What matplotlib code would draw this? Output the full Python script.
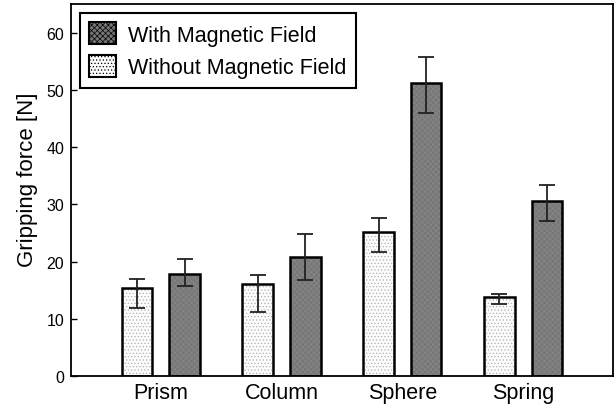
import matplotlib.pyplot as plt
import numpy as np
from matplotlib.patches import Patch

plt.rcParams['font.family'] = ['Liberation Sans', 'DejaVu Sans']
plt.rcParams['hatch.linewidth'] = 0.5

categories = ['Prism', 'Column', 'Sphere', 'Spring']
without_field = [15.4, 16.0, 25.2, 13.8]
without_lo = [11.9, 11.1, 21.6, 12.6]
without_hi = [17.0, 17.7, 27.6, 14.3]
with_field = [17.8, 20.8, 51.2, 30.5]
with_lo = [15.8, 16.8, 46.0, 27.0]
with_hi = [20.5, 24.8, 55.7, 33.4]

x = np.arange(len(categories))
w = 0.254
off = 0.197

fig = plt.figure(figsize=(6.16, 4.14), dpi=100)
ax = fig.add_axes([0.1153, 0.0894, 0.8797, 0.8986])

wo = np.array(without_field)
wi = np.array(with_field)

light_fc, light_hc = '#fcfcfc', '#b0b0b0'
dark_fc, dark_hc = '#777777', '#888888'
light_h, dark_h = '.....', 'xxxxxx'

# hatch layers first, then black outlines on top
ax.bar(x - off, wo, w, color=light_fc, edgecolor=light_hc, hatch=light_h, linewidth=0)
ax.bar(x + off, wi, w, color=dark_fc, edgecolor=dark_hc, hatch=dark_h, linewidth=0)
ax.bar(x - off, wo, w, fill=False, edgecolor='black', linewidth=1.8)
ax.bar(x + off, wi, w, fill=False, edgecolor='black', linewidth=1.8)

ax.errorbar(x - off, wo, yerr=[wo - np.array(without_lo), np.array(without_hi) - wo],
            fmt='none', ecolor='#222222', elinewidth=1.3, capsize=6, capthick=1.3)
ax.errorbar(x + off, wi, yerr=[wi - np.array(with_lo), np.array(with_hi) - wi],
            fmt='none', ecolor='#222222', elinewidth=1.3, capsize=6, capthick=1.3)

# legend proxies
h1 = Patch(facecolor=dark_fc, edgecolor='black', hatch=dark_h, linewidth=1.5)
h2 = Patch(facecolor=light_fc, edgecolor='black', hatch=light_h, linewidth=1.5)
leg = ax.legend([h1, h2], ['With Magnetic Field', 'Without Magnetic Field'],
                loc='upper left', fontsize=15.5, fancybox=False, framealpha=1,
                edgecolor='black', borderaxespad=0.4, handlelength=1.25, handleheight=1.2,
                borderpad=0.45, labelspacing=0.42, handletextpad=0.55)
leg.get_frame().set_linewidth(1.5)

ax.set_xlim(-0.744, 3.744)
ax.set_ylim(0, 65)
ax.set_yticks(range(0, 61, 10))
ax.set_xticks(x)
ax.set_xticklabels(categories, fontsize=15.5)
ax.tick_params(axis='x', length=0, pad=4)
ax.tick_params(axis='y', labelsize=11.5, direction='in', length=4, width=1, pad=5)
ax.set_ylabel('Gripping force [N]', fontsize=16, labelpad=6)
ax.yaxis.label.set_y(0.53)
for s in ax.spines.values():
    s.set_linewidth(1.3)

fig.savefig('out.png', dpi=100)
